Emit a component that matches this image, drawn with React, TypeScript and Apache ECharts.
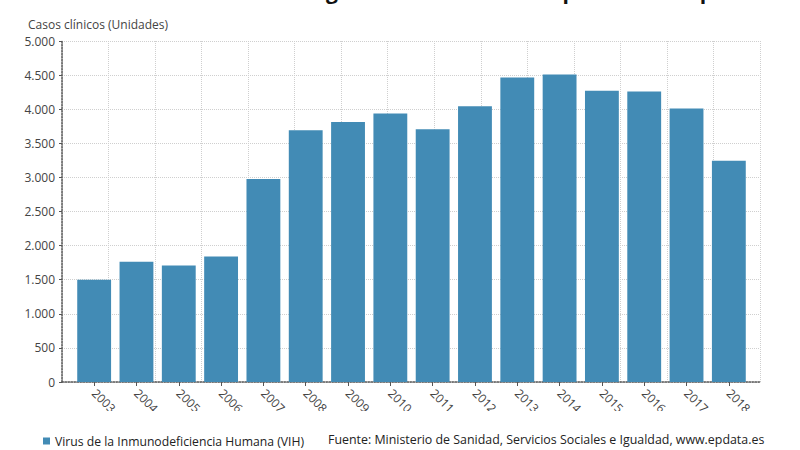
import React, { useEffect, useRef } from "react";
import * as echarts from "echarts";

const years = ["2003", "2004", "2005", "2006", "2007", "2008", "2009", "2010", "2011", "2012", "2013", "2014", "2015", "2016", "2017", "2018"];
const cases = [1500, 1765, 1707, 1839, 2977, 3690, 3811, 3937, 3705, 4044, 4466, 4510, 4272, 4258, 4010, 3243];
const yTicks = [0, 500, 1000, 1500, 2000, 2500, 3000, 3500, 4000, 4500, 5000];

const seriesName = "Virus de la Inmunodeficiencia Humana (VIH)";
const titleText = "Número de nuevos diagnósticos de infección por VIH en España";
const axisTitle = "Casos clínicos (Unidades)";
const sourceText = "Fuente: Ministerio de Sanidad, Servicios Sociales e Igualdad, www.epdata.es";

const FONT = "'Open Sans', 'Noto Sans', sans-serif";
const BAR = "#428bb5";

function fmt(v: number): string {
  return String(v).replace(/\B(?=(\d{3})+(?!\d))/g, ".");
}

export default function App() {
  const ref = useRef<HTMLDivElement>(null);
  useEffect(() => {
    document.body.style.margin = "0";
    if (!ref.current) return;
    const chart = echarts.init(ref.current, null, { renderer: "svg" });
    const top = 41;
    const bottom = 450 - 382;
    chart.setOption({
      animation: false,
      backgroundColor: "#ffffff",
      textStyle: { fontFamily: FONT },
      grid: [
        { left: 73, right: 50, top, bottom },
        { left: 62, right: 40, top, bottom },
      ],
      legend: {
        left: 38,
        top: 430,
        itemWidth: 7,
        itemHeight: 7,
        itemGap: 4,
        icon: "rect",
        textStyle: { fontFamily: FONT, fontSize: 12.2, color: "#222" },
        data: [seriesName],
      },
      xAxis: [
        {
          type: "category",
          gridIndex: 0,
          data: years,
          boundaryGap: true,
          axisLine: { show: false },
          axisTick: { show: true, alignWithLabel: true, length: 4, lineStyle: { color: "#555" } },
          axisLabel: { rotate: -45, fontSize: 12, color: "#444", margin: 9, fontFamily: FONT },
          splitLine: { show: false },
        },
        {
          type: "value",
          gridIndex: 1,
          min: 0,
          max: 15,
          interval: 1,
          axisLine: { show: true, lineStyle: { color: "#555", type: "dotted", width: 1.5 } },
          axisTick: { show: false },
          axisLabel: { show: false },
          splitLine: { show: true, lineStyle: { color: "#cfcfcf", type: "dotted" } },
        },
      ],
      yAxis: [
        { type: "value", gridIndex: 0, min: 0, max: 5000, interval: 500, show: false },
        {
          type: "value",
          gridIndex: 1,
          min: yTicks[0],
          max: yTicks[yTicks.length - 1],
          interval: 500,
          axisLine: { show: true, lineStyle: { color: "#555", type: "dotted", width: 1.5 } },
          axisTick: { show: true, length: 3, lineStyle: { color: "#555" } },
          axisLabel: { fontSize: 12, color: "#444", margin: 7, formatter: (v: number) => fmt(v), fontFamily: FONT },
          splitLine: { show: true, lineStyle: { color: "#cfcfcf", type: "dotted" } },
        },
      ],
      series: [
        {
          name: seriesName,
          type: "bar",
          xAxisIndex: 0,
          yAxisIndex: 0,
          data: cases,
          barWidth: "80%",
          itemStyle: { color: BAR },
          z: 3,
        },
      ],
      graphic: [
        {
          type: "rect",
          shape: { x: 60, y: 411, width: 720, height: 16 },
          style: { fill: "#ffffff" },
          z: 100,
        },
        {
          type: "text",
          x: 421,
          y: -9,
          style: { text: titleText, fontSize: 21, fontWeight: "bold", fill: "#111", fontFamily: FONT, textAlign: "center", textVerticalAlign: "middle" },
          z: 100,
        },
        {
          type: "text",
          x: 28,
          y: 24,
          style: { text: axisTitle, fontSize: 12, fill: "#444", fontFamily: FONT, textAlign: "left", textVerticalAlign: "middle" },
        },
        {
          type: "text",
          x: 328,
          y: 439,
          style: { text: sourceText, fontSize: 12.4, fill: "#222", fontFamily: FONT, textAlign: "left", textVerticalAlign: "middle" },
        },
      ],
    });
    return () => chart.dispose();
  }, []);
  return <div ref={ref} style={{ width: 800, height: 450 }} />;
}
